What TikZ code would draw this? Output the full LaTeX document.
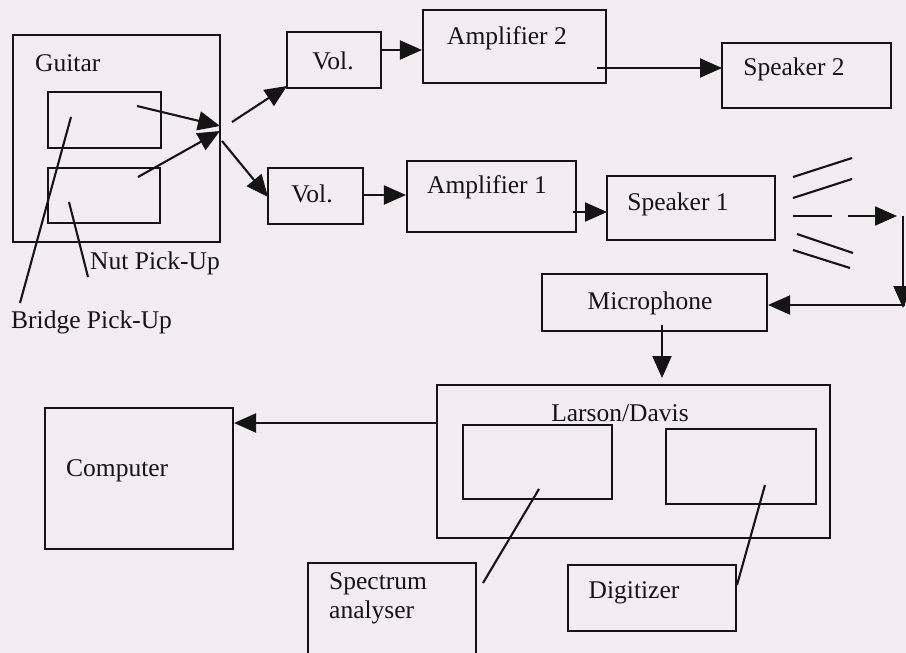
\documentclass[tikz,border=0pt]{standalone}
\usepackage{fontspec}
\setmainfont{Liberation Serif}
\usetikzlibrary{arrows.meta}
\definecolor{bgc}{RGB}{243,237,241}
\definecolor{ink}{RGB}{20,20,20}
\tikzset{
  box/.style={draw=ink, line width=2.1pt, inner sep=0pt, fill=none},
  lbl/.style={inner sep=0pt, text=ink, font=\fontsize{25.5}{29}\selectfont},
  conn/.style={draw=ink, line width=2.1pt},
  arr/.style={conn, -{Triangle[length=22pt,width=19pt]}},
}
\begin{document}
\begin{tikzpicture}[x=1pt,y=-1pt]
\fill[bgc] (0,0) rectangle (906,653);
\useasboundingbox (0,0) rectangle (906,653);
\clip (0,0) rectangle (906,653);
% boxes
\node[box, minimum width=207pt, minimum height=207pt] (guitar) at (116.5,138.5) {};
\node[box, minimum width=113pt, minimum height=56pt] (pu1) at (104.5,120) {};
\node[box, minimum width=112pt, minimum height=55pt] (pu2) at (104,195.5) {};
\node[box, minimum width=94pt, minimum height=56pt] (vol2) at (334,60) {};
\node[box, minimum width=183pt, minimum height=73pt] (amp2) at (514.5,46.5) {};
\node[box, minimum width=169pt, minimum height=65pt] (spk2) at (806.5,75.5) {};
\node[box, minimum width=95pt, minimum height=56pt] (vol1) at (315.5,196) {};
\node[box, minimum width=169pt, minimum height=71pt] (amp1) at (491.5,196.5) {};
\node[box, minimum width=168pt, minimum height=64pt] (spk1) at (691,208) {};
\node[box, minimum width=225pt, minimum height=57pt] (mic) at (654.5,302.5) {};
\node[box, minimum width=393pt, minimum height=153pt] (ld) at (633.5,461.5) {};
\node[box, minimum width=149pt, minimum height=74pt] (ldl) at (537.5,462) {};
\node[box, minimum width=150pt, minimum height=75pt] (ldr) at (741,466.5) {};
\node[box, minimum width=168pt, minimum height=66pt] (dig) at (652,598) {};
\node[box, minimum width=168pt, minimum height=117pt] (spec) at (392,621.5) {};
\node[box, minimum width=188pt, minimum height=141pt] (comp) at (139,478.5) {};
% labels
\node[lbl, anchor=west] (tguitar) at (35,63) {Guitar};
\node[lbl] (tvol2) at (333,61) {Vol.};
\node[lbl] (tamp2) at (507,38) {Amplifier 2};
\node[lbl] (tspk2) at (794,69) {Speaker 2};
\node[lbl] (tvol1) at (312,194) {Vol.};
\node[lbl] (tamp1) at (487,187) {Amplifier 1};
\node[lbl] (tspk1) at (678,204) {Speaker 1};
\node[lbl] (tmic) at (650,303) {Microphone};
\node[lbl] (tld) at (620,413) {Larson/Davis};
\node[lbl, anchor=west] (tcomp) at (66,471) {Computer};
\node[lbl] (tdig) at (634,593) {Digitizer};
\node[lbl, anchor=west] (tspec1) at (329,584) {Spectrum};
\node[lbl, anchor=west] (tspec2) at (329,612) {analyser};
\node[lbl, anchor=west] (tnut) at (90,263) {Nut Pick-Up};
\node[lbl, anchor=west] (tbridge) at (11,322) {Bridge Pick-Up};
% coordinates
\coordinate (j1) at (220,126);
\coordinate (j2) at (220,131);
\coordinate (o1) at (232,122);
\coordinate (o2) at (222,141);
\coordinate (p1s) at (137,106);
\coordinate (p2s) at (138,177);
\coordinate (v2in) at (287,86);
\coordinate (v1in) at (268,197);
\coordinate (a2o) at (597,68);
\coordinate (s2i) at (722,68);
\coordinate (a1o) at (573,212);
\coordinate (s1i) at (607,212);
\coordinate (sa) at (848,216);
\coordinate (sb) at (897,216);
\coordinate (va) at (903,216);
\coordinate (vb) at (903,308);
\coordinate (ha) at (905,305);
\coordinate (mo) at (662,325);
\coordinate (li) at (662,378);
\coordinate (bp1) at (71,117);
\coordinate (bp2) at (20,303);
\coordinate (np1) at (69,202);
\coordinate (np2) at (88,277);
\coordinate (sp1) at (539,489);
\coordinate (sp2) at (483,583);
\coordinate (dg1) at (765,485);
\coordinate (dg2) at (737,585);
% connectors
\draw[arr] (p1s) -- (j1);
\draw[arr] (p2s) -- (j2);
\draw[arr] (o1) -- (v2in);
\draw[arr] (o2) -- (v1in);
\draw[arr] (vol2.east |- 0,50) -- (amp2.west |- 0,50);
\draw[arr] (a2o) -- (s2i);
\draw[arr] (vol1.east |- 0,195) -- (amp1.west |- 0,195);
\draw[arr] (a1o) -- (s1i);
\draw[arr] (sa) -- (sb);
\draw[arr] (va) -- (vb);
\draw[arr] (ha) -- (mic.east |- ha);
\draw[arr] (mo) -- (li);
\draw[arr] (ld.west |- 0,423) -- (comp.east |- 0,423);
\draw[conn] (bp1) -- (bp2);
\draw[conn] (np1) -- (np2);
\draw[conn] (sp1) -- (sp2);
\draw[conn] (dg1) -- (dg2);
% sound waves
\draw[conn] (793,177) -- (852,158);
\draw[conn] (793,198) -- (852,179);
\draw[conn, line width=1.4pt] (793,216) -- (832,216);
\draw[conn] (797,234) -- (853,253);
\draw[conn] (793,250) -- (850,268);
\end{tikzpicture}
\end{document}
